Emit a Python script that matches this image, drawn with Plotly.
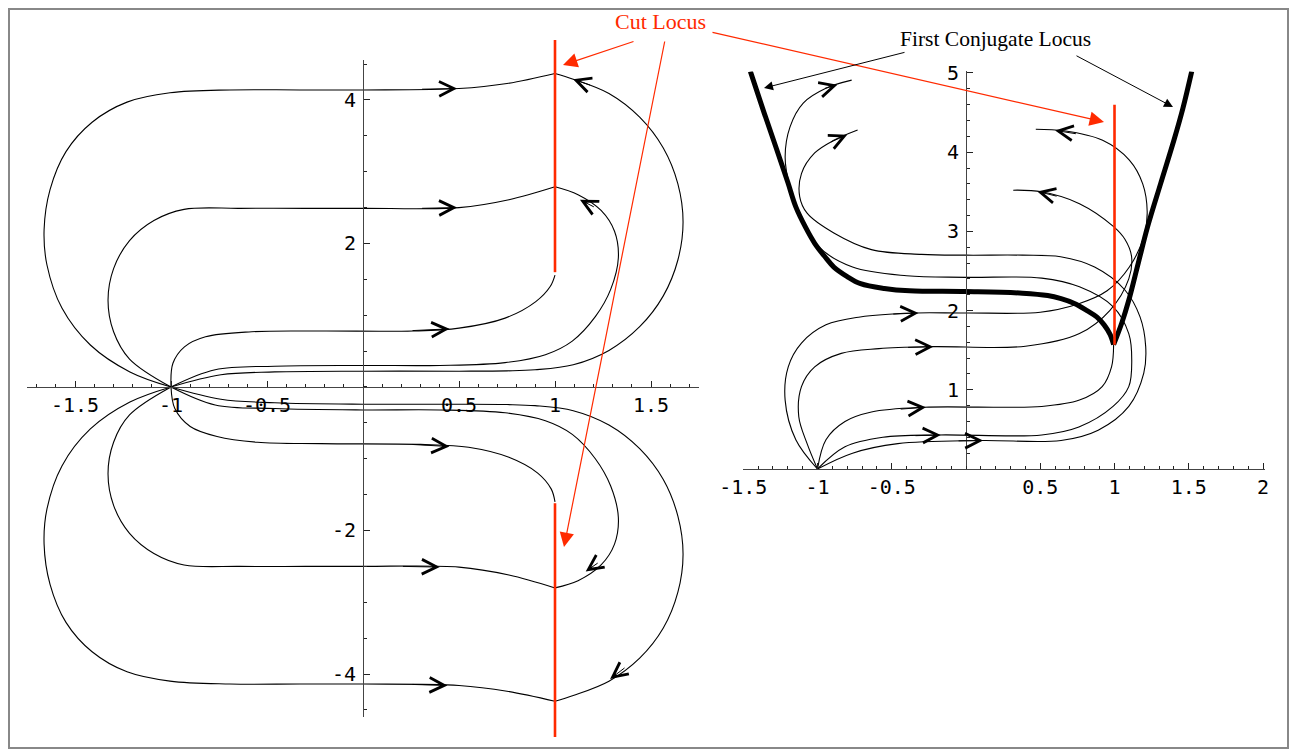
import plotly.graph_objects as go

W, H = 1297, 749      # browser window
PAD = 8               # page margin around the plot div
FW, FH = W - PAD, H - PAD
RED = '#ff2a00'

# ---------------- left panel: geodesics from (-1, 0) ----------------
u1_x = [-1.0, -1.214, -1.42, -1.568, -1.646, -1.661, -1.63, -1.547, -1.411, -1.229, -1.005, -0.693, -0.33, 0.0, 0.5, 0.75, 1.0]
u1_y = [0.0, 0.21, 0.585, 1.10, 1.70, 2.19, 2.75, 3.28, 3.69, 3.97, 4.10, 4.14, 4.14, 4.14, 4.16, 4.23, 4.37]
u2_x = [-1.0, -1.216, -1.299, -1.328, -1.299, -1.216, -1.089, -0.932, -0.64, -0.3, 0.0, 0.5, 0.76, 1.0]
u2_y = [0.0, 0.39, 0.77, 1.21, 1.65, 2.04, 2.32, 2.475, 2.49, 2.49, 2.49, 2.50, 2.61, 2.79]
u3_x = [-1.0, -0.99, -0.93, -0.82, -0.58, -0.22, 0.26, 0.50, 0.74, 0.90, 0.975, 1.0]
u3_y = [0.0, 0.33, 0.56, 0.70, 0.77, 0.78, 0.78, 0.82, 0.96, 1.19, 1.40, 1.56]
u4_x = [-1.0, -0.74, -0.46, 0.0, 0.5, 0.75, 0.896, 1.095, 1.281, 1.441, 1.564, 1.64, 1.667, 1.64, 1.564, 1.441, 1.281, 1.095, 1.0]
u4_y = [0.0, 0.17, 0.21, 0.22, 0.22, 0.225, 0.24, 0.31, 0.51, 0.84, 1.27, 1.77, 2.30, 2.83, 3.33, 3.76, 4.09, 4.29, 4.37]
u5_x = [-1.0, -0.77, -0.46, 0.0, 0.4, 0.74, 0.95, 1.09, 1.21, 1.29, 1.33, 1.31, 1.24, 1.12, 1.0]
u5_y = [0.0, 0.24, 0.29, 0.30, 0.30, 0.34, 0.45, 0.64, 0.98, 1.36, 1.80, 2.17, 2.46, 2.68, 2.79]

l1_x = [-1.0, -1.214, -1.42, -1.568, -1.646, -1.661, -1.63, -1.547, -1.411, -1.229, -1.005, -0.693, -0.33, 0.0, 0.5, 0.75, 1.0]
l1_y = [0.0, -0.21, -0.585, -1.10, -1.70, -2.19, -2.75, -3.28, -3.69, -3.97, -4.10, -4.14, -4.14, -4.14, -4.16, -4.24, -4.38]
l2_x = [-1.0, -1.216, -1.299, -1.328, -1.299, -1.216, -1.089, -0.932, -0.64, -0.3, 0.0, 0.5, 0.76, 1.0]
l2_y = [0.0, -0.39, -0.77, -1.21, -1.65, -2.04, -2.32, -2.48, -2.50, -2.50, -2.50, -2.51, -2.62, -2.80]
l3_x = [-1.0, -0.98, -0.90, -0.76, -0.55, -0.22, 0.30, 0.55, 0.76, 0.91, 0.98, 1.0]
l3_y = [0.0, -0.30, -0.55, -0.69, -0.77, -0.79, -0.80, -0.84, -0.98, -1.20, -1.42, -1.60]
l4_x = [-1.0, -0.74, -0.46, 0.0, 0.5, 0.75, 0.896, 1.095, 1.281, 1.441, 1.564, 1.64, 1.667, 1.64, 1.564, 1.441, 1.281, 1.095, 1.0]
l4_y = [0.0, -0.17, -0.22, -0.24, -0.24, -0.245, -0.26, -0.33, -0.53, -0.86, -1.29, -1.80, -2.33, -2.86, -3.36, -3.78, -4.10, -4.30, -4.38]
l5_x = [-1.0, -0.77, -0.46, 0.0, 0.4, 0.74, 0.95, 1.09, 1.21, 1.29, 1.33, 1.31, 1.24, 1.12, 1.0]
l5_y = [0.0, -0.25, -0.30, -0.32, -0.32, -0.36, -0.47, -0.66, -1.00, -1.38, -1.82, -2.19, -2.48, -2.70, -2.80]

cut_x = [1.0, 1.0]
cut_top_y = [1.60, 4.84]
cut_bot_y = [-1.62, -4.88]

# chevrons on the left curves: head point, tail point
chev_l_hx = [0.49, 0.49, 0.45, 1.094, 1.13, 0.44, 0.40, 0.45, 1.287, 1.16]
chev_l_hy = [4.16, 2.50, 0.81, 4.29, 2.61, -4.16, -2.51, -0.83, -4.07, -2.57]
chev_l_tx = [0.30, 0.30, 0.25, 1.19, 1.21, 0.25, 0.20, 0.25, 1.37, 1.23]
chev_l_ty = [4.15, 2.49, 0.785, 4.20, 2.50, -4.145, -2.50, -0.80, -3.90, -2.44]

# ---------------- right panel ----------------
c1_x = [-1.0, -1.146, -1.218, -1.197, -1.108, -0.943, -0.713, -0.357, 0.0, 0.5, 0.75, 0.95, 1.1, 1.2, 1.22, 1.19, 1.1, 0.92, 0.66, 0.47]
c1_y = [0.0, 0.37, 0.87, 1.29, 1.59, 1.82, 1.92, 1.97, 1.97, 1.98, 2.08, 2.25, 2.55, 2.95, 3.25, 3.60, 3.90, 4.15, 4.27, 4.29]
c2_x = [-1.0, -1.07, -1.126, -1.108, -1.019, -0.84, -0.586, -0.23, 0.4, 0.764, 0.968, 1.096, 1.115, 1.07, 0.994, 0.764, 0.51, 0.318]
c2_y = [0.0, 0.32, 0.66, 1.04, 1.29, 1.46, 1.52, 1.545, 1.55, 1.71, 2.0, 2.40, 2.68, 2.90, 3.06, 3.35, 3.50, 3.52]
c3_x = [-1.0, -0.943, -0.815, -0.637, -0.28, 0.51, 0.764, 0.917, 0.98, 0.994]
c3_y = [0.0, 0.37, 0.60, 0.72, 0.78, 0.79, 0.87, 1.04, 1.29, 1.57]
c4_x = [-1.0, -0.815, -0.56, -0.18, 0.51, 0.76, 0.99, 1.096, 1.116, 1.096, 0.99, 0.764, 0.51, 0.0,
        -0.4, -0.764, -0.994, -1.096, -1.185, -1.218, -1.185, -1.096, -0.94, -0.77]
c4_y = [0.0, 0.28, 0.40, 0.43, 0.43, 0.53, 0.79, 1.04, 1.38, 1.71, 2.05, 2.30, 2.41, 2.42,
        2.44, 2.55, 2.81, 3.14, 3.56, 3.94, 4.32, 4.62, 4.81, 4.91]
c5_x = [-1.0, -0.764, -0.459, 0.1, 0.64, 0.89, 1.096, 1.197, 1.21, 1.172, 1.07, 0.866, 0.637, 0.38,
        0.0, -0.3, -0.637, -0.89, -1.07, -1.12, -1.108, -1.019, -0.89, -0.73]
c5_y = [0.0, 0.20, 0.32, 0.36, 0.36, 0.49, 0.79, 1.21, 1.545, 1.92, 2.26, 2.55, 2.68, 2.70,
        2.70, 2.71, 2.77, 2.98, 3.23, 3.44, 3.73, 3.99, 4.15, 4.28]

conj_left_x = [-1.452, -1.36, -1.274, -1.2, -1.146, -1.08, -1.019, -0.95, -0.89, -0.80, -0.71, -0.55,
               -0.38, 0.0, 0.38, 0.55, 0.64, 0.73, 0.815, 0.88, 0.93, 0.97, 0.994]
conj_left_y = [5.02, 4.5, 4.03, 3.62, 3.31, 3.05, 2.85, 2.68, 2.55, 2.43, 2.34, 2.28,
               2.25, 2.24, 2.22, 2.19, 2.15, 2.09, 2.0, 1.92, 1.82, 1.70, 1.57]
conj_right_x = [0.994, 1.05, 1.096, 1.16, 1.223, 1.31, 1.40, 1.46, 1.52]
conj_right_y = [1.57, 1.85, 2.13, 2.6, 3.06, 3.6, 4.15, 4.55, 5.02]

cut_r_y = [1.57, 4.60]

chev_r_hx = [-0.32, -0.22, -0.27, -0.17, 0.115, -0.866, -0.80, 0.60, 0.48]
chev_r_hy = [1.97, 1.545, 0.78, 0.43, 0.36, 4.85, 4.22, 4.275, 3.505]
chev_r_tx = [-0.50, -0.40, -0.45, -0.35, -0.06, -0.96, -0.92, 0.75, 0.62]
chev_r_ty = [1.955, 1.535, 0.755, 0.42, 0.355, 4.80, 4.12, 4.23, 3.44]

# tick labels
xl_vals = [-1.5, -1, -0.5, 0.5, 1, 1.5]
xl_text = ['-1.5', '-1', '-0.5', '0.5', '1', '1.5']
yl_vals = [-4, -2, 2, 4]
yl_text = ['-4', '-2', '2', '4']
xr_vals = [-1.5, -1, -0.5, 0.5, 1, 1.5, 2]
xr_text = ['-1.5', '-1', '-0.5', '0.5', '1', '1.5', '2']
yr_vals = [1, 2, 3, 4, 5]
yr_text = ['1', '2', '3', '4', '5']


# window pixel -> paper fraction (the plot div sits PAD px into the page)
def pxx(p):
    return (p - PAD) / FW


def pxy(p):
    return 1 - (p - PAD) / FH


fig = go.Figure()


def curve(x, y, xa='x', ya='y', color='black', width=1.1, shape='spline'):
    fig.add_trace(go.Scatter(x=x, y=y, xaxis=xa, yaxis=ya, mode='lines',
                             line=dict(color=color, width=width, shape=shape, smoothing=1.0),
                             hoverinfo='skip', showlegend=False))


for cx, cy in [(u1_x, u1_y), (u2_x, u2_y), (u3_x, u3_y), (u4_x, u4_y), (u5_x, u5_y),
               (l1_x, l1_y), (l2_x, l2_y), (l3_x, l3_y), (l4_x, l4_y), (l5_x, l5_y)]:
    curve(cx, cy)
curve(cut_x, cut_top_y, 'x3', 'y3', RED, 2.6, 'linear')
curve(cut_x, cut_bot_y, 'x3', 'y3', RED, 2.6, 'linear')

for cx, cy in [(c1_x, c1_y), (c2_x, c2_y), (c3_x, c3_y), (c4_x, c4_y), (c5_x, c5_y)]:
    curve(cx, cy, 'x2', 'y2')
curve(conj_left_x, conj_left_y, 'x2', 'y2', 'black', 5)
curve(conj_right_x, conj_right_y, 'x2', 'y2', 'black', 5)
curve(cut_x, cut_r_y, 'x2', 'y2', RED, 2.6, 'linear')

# chevrons along the curves
for hx, hy, tx, ty in zip(chev_l_hx, chev_l_hy, chev_l_tx, chev_l_ty):
    fig.add_annotation(x=hx, y=hy, ax=tx, ay=ty, xref='x', yref='y', axref='x', ayref='y',
                       text='', showarrow=True, arrowhead=5, arrowsize=2.9, arrowwidth=1,
                       arrowcolor='black', standoff=0)
for hx, hy, tx, ty in zip(chev_r_hx, chev_r_hy, chev_r_tx, chev_r_ty):
    fig.add_annotation(x=hx, y=hy, ax=tx, ay=ty, xref='x2', yref='y2', axref='x2', ayref='y2',
                       text='', showarrow=True, arrowhead=5, arrowsize=2.9, arrowwidth=1,
                       arrowcolor='black', standoff=0)

# labels with pointer arrows
serif = 'Liberation Serif, Times New Roman, serif'
fig.add_annotation(x=pxx(660), y=pxy(22), xref='paper', yref='paper', text='Cut Locus',
                   xanchor='center', yanchor='middle', showarrow=False,
                   font=dict(family=serif, size=22, color=RED))
fig.add_annotation(x=pxx(995), y=pxy(39), xref='paper', yref='paper', text='First Conjugate Locus',
                   xanchor='center', yanchor='middle', showarrow=False,
                   font=dict(family=serif, size=21.5, color='black'))
for hx, hy, ax, ay in [(563, 65, 72, -24), (564, 547, 101, -507), (1104, 122, -393, -90)]:
    fig.add_annotation(x=pxx(hx), y=pxy(hy), xref='paper', yref='paper', ax=ax, ay=ay,
                       text='', showarrow=True, arrowhead=2, arrowsize=2.4, arrowwidth=1.2,
                       arrowcolor=RED, standoff=0)
for hx, hy, ax, ay in [(764, 88, 142, -36), (1173, 107, -98, -52)]:
    fig.add_annotation(x=pxx(hx), y=pxy(hy), xref='paper', yref='paper', ax=ax, ay=ay,
                       text='', showarrow=True, arrowhead=2, arrowsize=1.8, arrowwidth=1,
                       arrowcolor='black', standoff=0)

tick_font = dict(family='DejaVu Sans Mono, monospace', size=20, color='black')
axis_style = dict(showgrid=False, zeroline=False, showline=True, linecolor='#444', linewidth=1,
                  ticks='inside', tickcolor='#222', tickwidth=1, ticklen=6, tickfont=tick_font,
                  tickmode='array', fixedrange=True, automargin=False)


def minor(step):
    return dict(ticks='inside', ticklen=3, tickcolor='#222', tickwidth=1,
                tickmode='linear', tick0=0, dtick=step)


left_x_dom = [pxx(27), pxx(699)]
fig.update_layout(
    width=FW, height=FH, margin=dict(l=0, r=0, t=0, b=0, autoexpand=False),
    paper_bgcolor='white', plot_bgcolor='rgba(0,0,0,0)', showlegend=False,
    xaxis=dict(axis_style, domain=left_x_dom, range=[-1.75, 1.75], anchor='free',
               position=pxy(387), tickvals=xl_vals, ticktext=xl_text, minor=minor(0.1),
               ticklabelstandoff=0),
    yaxis=dict(axis_style, domain=[pxy(717.05), pxy(59.8)], range=[-4.6, 4.56], anchor='free',
               position=pxx(363), tickvals=yl_vals, ticktext=yl_text, minor=minor(0.5),
               ticklabelstandoff=3),
    xaxis3=dict(visible=False, domain=left_x_dom, range=[-1.75, 1.75], anchor='y3',
                fixedrange=True, automargin=False),
    yaxis3=dict(visible=False, domain=[pxy(737), pxy(40)], range=[-4.878, 4.836], anchor='x3',
                fixedrange=True, automargin=False),
    xaxis2=dict(axis_style, domain=[pxx(743.25), pxx(1264.5)], range=[-1.5, 2.01], anchor='y2',
                tickvals=xr_vals, ticktext=xr_text, minor=minor(0.1), ticklabelstandoff=0),
    yaxis2=dict(axis_style, domain=[pxy(469), pxy(71.4)], range=[0, 5.02], anchor='free',
                position=pxx(966), tickvals=yr_vals, ticktext=yr_text, minor=minor(0.2),
                ticklabelstandoff=3),
    shapes=[dict(type='rect', xref='paper', yref='paper', x0=pxx(9), x1=pxx(1288),
                 y0=pxy(748), y1=pxy(9), line=dict(color='#888', width=2))],
)

fig.write_html("out.html")
